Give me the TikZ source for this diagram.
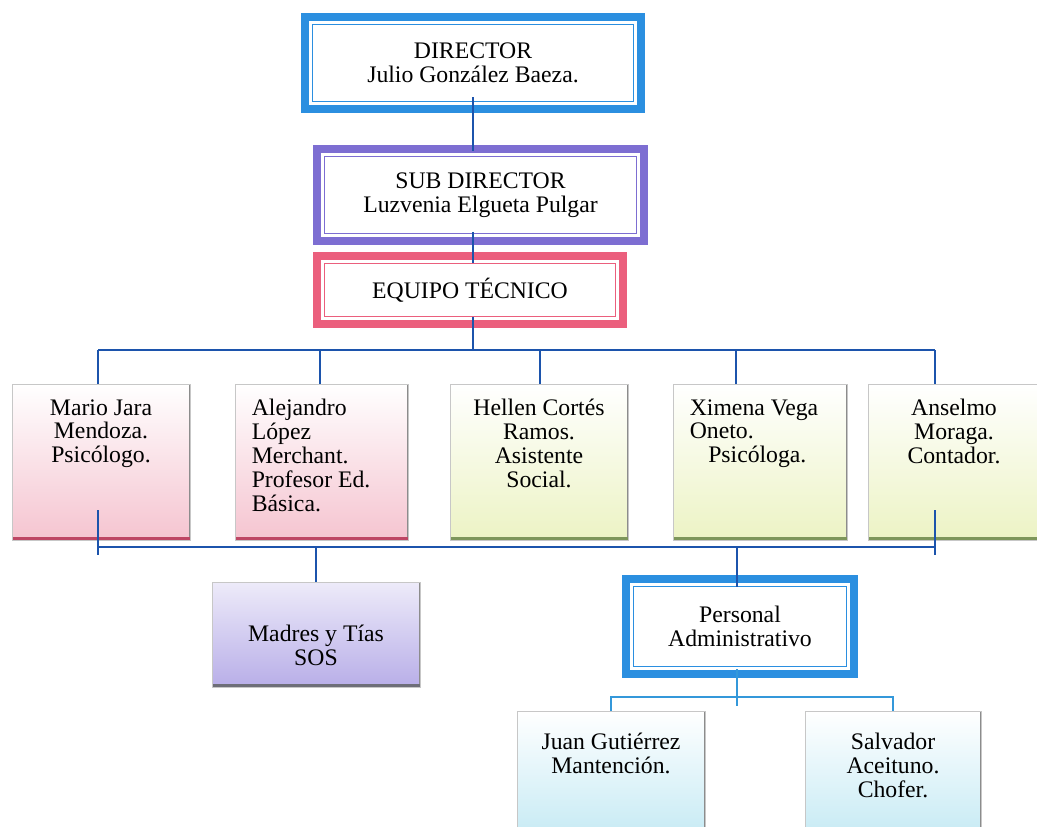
\documentclass[tikz,border=0pt]{standalone}
\usepackage{fontspec}
\setmainfont{Liberation Serif}
\usepackage{tikz}
\usetikzlibrary{positioning}

\definecolor{frameblue}{RGB}{43,143,224}
\definecolor{framepurple}{RGB}{125,110,210}
\definecolor{framepink}{RGB}{235,95,125}
\definecolor{busblue}{RGB}{28,84,172}
\definecolor{admblue}{RGB}{52,152,218}
\definecolor{cardpink}{RGB}{245,196,208}
\definecolor{cardgreen}{RGB}{236,243,196}
\definecolor{cardlilac}{RGB}{184,174,232}
\definecolor{cardcyan}{RGB}{192,232,243}
\definecolor{edgepink}{RGB}{190,70,100}
\definecolor{edgegreen}{RGB}{125,150,90}
\definecolor{edgegray}{RGB}{110,110,120}

\begin{document}
\begin{tikzpicture}[x=0.02cm,y=-0.02cm,
  every node/.style={font=\fontsize{13.5}{13.6}\selectfont},
  dblbox/.style={draw=#1,line width=4.5pt,fill=white,align=center,inner sep=0pt,
    path picture={\draw[#1,line width=1pt]
      ([shift={(4.2pt,-4.2pt)}]path picture bounding box.north west) rectangle
      ([shift={(-4.2pt,4.2pt)}]path picture bounding box.south east);}},
  card/.style 2 args={draw=black!22,line width=0.5pt,top color=white,bottom color=#1,
    path picture={\draw[black!45,line width=1.6pt]
      (path picture bounding box.north east) -- (path picture bounding box.south east);
      \draw[#2,line width=3.4pt]
      (path picture bounding box.south west) -- (path picture bounding box.south east);}},
  txt/.style={align=center,inner sep=0pt,execute at begin node=\strut},
  link/.style={busblue,line width=1.1pt},
  adm/.style={admblue,line width=1.1pt}]
\useasboundingbox (0,0) rectangle (1037,827);
\clip (0,0) rectangle (1037,827);

% direccion
\node[dblbox=frameblue,minimum width=6.72cm,minimum height=1.84cm] (dir) at (473,63) {DIRECTOR\\Julio González Baeza.};
\node[dblbox=framepurple,minimum width=6.54cm,minimum height=1.84cm] (sub) at (480.5,195) {SUB DIRECTOR\\Luzvenia Elgueta Pulgar};
\node[dblbox=framepink,minimum width=6.12cm,minimum height=1.36cm] (equipo) at (470,290) {EQUIPO TÉCNICO};

% equipo tecnico
\node[card={cardpink}{edgepink},minimum width=3.56cm,minimum height=3.12cm] (mario) at (101,462) {};
\node[card={cardpink}{edgepink},minimum width=3.46cm,minimum height=3.12cm] (alejandro) at (321.5,462) {};
\node[card={cardgreen}{edgegreen},minimum width=3.56cm,minimum height=3.12cm] (hellen) at (539,462) {};
\node[card={cardgreen}{edgegreen},minimum width=3.48cm,minimum height=3.12cm] (ximena) at (760,462) {};
\node[card={cardgreen}{edgegreen},minimum width=3.44cm,minimum height=3.12cm] (anselmo) at (954,462) {};

\node[txt,below=8.8pt of mario.north] (mariot) {Mario Jara\\Mendoza.\\Psicólogo.};
\node[txt,align=left,anchor=north west] (alejandrot) at ([shift={(9.6pt,-8.8pt)}]alejandro.north west) {Alejandro\\López\\Merchant.\\Profesor Ed.\\Básica.};
\node[txt,below=8.8pt of hellen.north] (hellent) {Hellen Cortés\\Ramos.\\Asistente\\Social.};
\node[txt,align=left,anchor=north west] (ximenat) at ([shift={(9.6pt,-8.8pt)}]ximena.north west) {Ximena Vega\\Oneto.\\\hspace*{10.5pt}Psicóloga.};
\node[txt,below=8.8pt of anselmo.north] (anselmot) {Anselmo\\Moraga.\\Contador.};

% apoyo
\node[card={cardlilac}{edgegray},top color=cardlilac!25,minimum width=4.16cm,minimum height=2.1cm] (madres) at (316,634.5) {};
\node[txt,below=24.4pt of madres.north] (madrest) {Madres y Tías\\SOS};
\node[dblbox=frameblue,minimum width=4.56cm,minimum height=1.9cm] (personal) at (740,626.5) {Personal\\Administrativo};

\node[card={cardcyan}{edgegray},minimum width=3.76cm,minimum height=2.8cm] (juan) at (611,781) {};
\node[card={cardcyan}{edgegray},minimum width=3.52cm,minimum height=2.8cm] (salvador) at (893,781) {};
\node[txt,below=12.5pt of juan.north] (juant) {Juan Gutiérrez\\Mantención.};
\node[txt,below=12.5pt of salvador.north] (salvadort) {Salvador\\Aceituno.\\Chofer.};

% lineas
\coordinate (busl) at (98,350);
\coordinate (busr) at (935,350);
\coordinate (lowl) at (98,547);
\coordinate (lowr) at (935,547);
\coordinate (admbus) at (737,697);

\draw[link,shorten <=-9pt,shorten >=-3.5pt] (dir.south) -- (dir.south |- sub.north);
\draw[link,shorten <=-7.4pt,shorten >=-6pt] (dir.south |- sub.south) -- (dir.south |- equipo.north);
\draw[link,shorten <=-6pt] (dir.south |- equipo.south) -- (dir.south |- busl);
\draw[link] (busl) -- (busr);
\foreach \n/\x in {mario/98,alejandro/320,hellen/540,ximena/736,anselmo/935}
  \draw[link] (\x,350) -- (\x,350 |- \n.north);

\draw[link] (lowl) -- (lowr);
\foreach \c in {lowl,lowr}
  \draw[link] ([yshift=21pt]\c) -- ([yshift=-4.5pt]\c);
\draw[link] (lowl -| madres.north) -- (madres.north);
\draw[link,shorten >=-7pt] (lowl -| admbus) -- (admbus |- personal.north);

\draw[adm,shorten <=-5pt,shorten >=-5pt] (admbus |- personal.south) -- (admbus);
\draw[adm] (juan.north) |- (admbus) -| (salvador.north);
\end{tikzpicture}
\end{document}
